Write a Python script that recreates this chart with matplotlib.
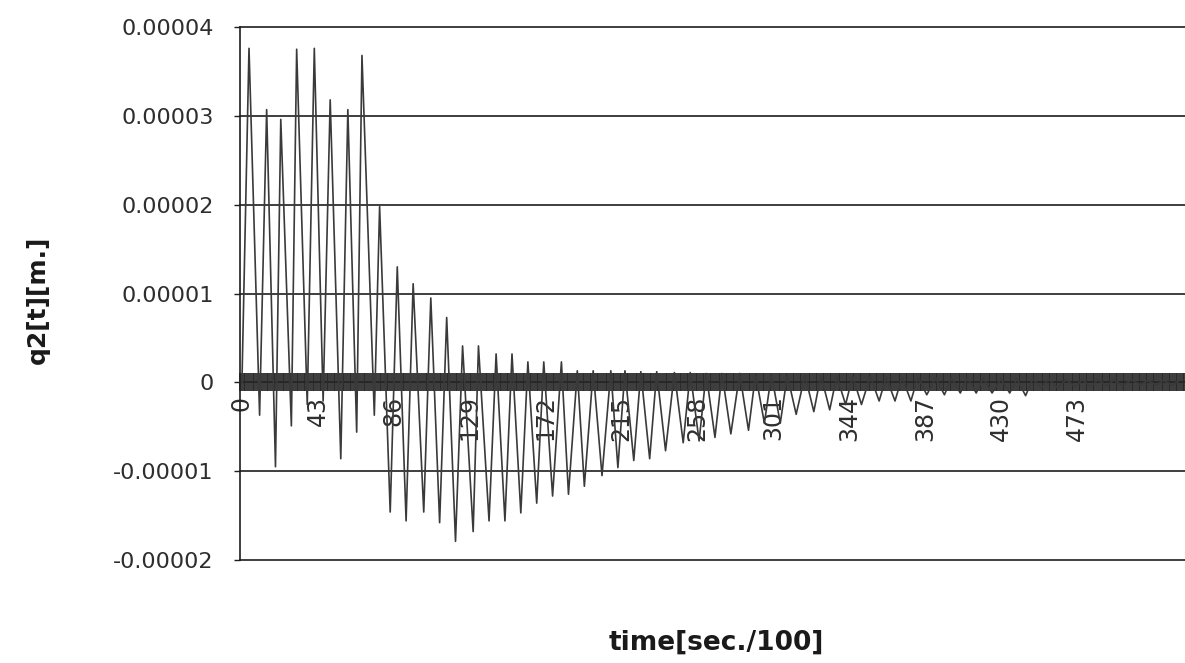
import matplotlib
matplotlib.use("Agg")
import matplotlib.pyplot as plt
from matplotlib.ticker import MultipleLocator

# ---- data ----
# time in category units (sec/100), alternating local maxima / minima of q2
time_idx = [0, 4, 10, 14, 19, 22, 28, 31, 37, 41, 46, 50, 56, 60, 65, 68, 75, 78,
            84, 88, 93, 97, 103, 107, 112, 116, 121, 125, 131, 134, 140, 144, 149,
            153, 158, 162, 167, 171, 176, 181, 185, 190, 194, 199, 204, 209, 213,
            217, 222, 226, 231, 235, 240, 245, 250, 254, 259, 263, 268, 272, 277,
            282, 287, 291, 296, 300, 305, 309, 314, 319, 324, 328, 333, 337, 342,
            346, 351, 356, 361, 365, 370, 374, 379, 383, 388, 393, 398, 402, 407,
            411, 416, 420, 425, 430, 435, 439, 444, 448, 453, 457, 462, 467, 472,
            476, 481, 485, 490, 494, 499, 504, 509, 513, 518, 522, 527, 531]
# q2 values in units of 1e-5 m
q2_e5 = [0.0, 3.76, -0.37, 3.07, -0.95, 2.96, -0.49, 3.75, -0.25, 3.76, -0.21,
         3.18, -0.86, 3.07, -0.56, 3.68, -0.37, 1.98, -1.46, 1.30, -1.56, 1.11,
         -1.46, 0.95, -1.58, 0.73, -1.79, 0.41, -1.68, 0.41, -1.56, 0.32, -1.56,
         0.32, -1.47, 0.23, -1.36, 0.23, -1.28, 0.23, -1.26, 0.13, -1.17, 0.13,
         -1.05, 0.13, -0.96, 0.13, -0.88, 0.12, -0.86, 0.12, -0.77, 0.11, -0.68,
         0.11, -0.66, 0.10, -0.62, 0.10, -0.58, 0.10, -0.54, 0.09, -0.46, 0.09,
         -0.46, 0.08, -0.36, 0.08, -0.33, 0.08, -0.31, 0.07, -0.25, 0.07, -0.25,
         0.07, -0.21, 0.06, -0.21, 0.06, -0.21, 0.06, -0.14, 0.05, -0.14, 0.05,
         -0.12, 0.05, -0.12, 0.05, -0.12, 0.04, -0.12, 0.04, -0.15, 0.04, -0.06,
         0.04, -0.06, 0.03, -0.05, 0.03, -0.05, 0.03, -0.04, 0.03, -0.04, 0.03,
         -0.03, 0.02, -0.03, 0.02, -0.03, 0.02]

xtick_vals = [0, 43, 86, 129, 172, 215, 258, 301, 344, 387, 430, 473]
xtick_labels = ["0", "43", "86", "129", "172", "215", "258", "301", "344",
                "387", "430", "473"]
ytick_vals = [0.00004, 0.00003, 0.00002, 0.00001, 0.0, -0.00001, -0.00002]
ytick_labels = ["0.00004", "0.00003", "0.00002", "0.00001", "0",
                "-0.00001", "-0.00002"]
x_title = "time[sec./100]"
y_title = "q2[t][m.]"

# ---- figure ----
W, H = 1185, 663
fig = plt.figure(figsize=(W / 100, H / 100), dpi=100)
fig.patch.set_facecolor("white")
ax = fig.add_axes([240 / W, 1 - 560 / H, (W - 240) / W, (560 - 27) / H])

q2 = [v * 1e-5 for v in q2_e5]
ax.plot(time_idx, q2, color="#3a3a3a", lw=1.2, zorder=3, clip_on=True)

ax.set_xlim(-1.1, 534.3)
ax.set_ylim(-0.00002, 0.00004)

# spines
ax.spines["top"].set_visible(False)
ax.spines["right"].set_visible(False)
ax.spines["left"].set_color("#1e1e1e")
ax.spines["left"].set_linewidth(1.2)
ax.spines["bottom"].set_position(("data", 0))
ax.spines["bottom"].set_color("#2a2a2a")
ax.spines["bottom"].set_linewidth(1.2)

# y axis
ax.set_yticks(ytick_vals)
ax.set_yticklabels(ytick_labels)
ax.tick_params(axis="y", direction="out", length=4, width=1.0,
               color="#1e1e1e", pad=15, labelsize=16, labelcolor="#2e2e2e")
ax.yaxis.grid(True, color="#1e1e1e", linewidth=1.2)
for t in ax.yaxis.get_major_ticks():
    t.gridline.set_clip_on(False)
ax.set_axisbelow(True)

# x axis: dense category tick marks forming a dark band
ax.set_xticks(xtick_vals)
ax.set_xticklabels(xtick_labels, rotation=90, ha="center", va="top")
ax.xaxis.set_minor_locator(MultipleLocator(1))
ax.tick_params(axis="x", which="both", direction="inout", length=13,
               width=1.3, color="#2a2a2a")
ax.tick_params(axis="x", which="major", pad=3, labelsize=17,
               labelcolor="#2e2e2e")

# axis titles
fig.text(716 / W, 1 - 643 / H, x_title, ha="center", va="center",
         fontsize=19, fontweight="bold", color="#1a1a1a")
fig.text(38 / W, 1 - 300 / H, y_title, ha="center", va="center",
         rotation=90, fontsize=18, fontweight="bold", color="#1a1a1a")

fig.savefig("out.png", dpi=100)
